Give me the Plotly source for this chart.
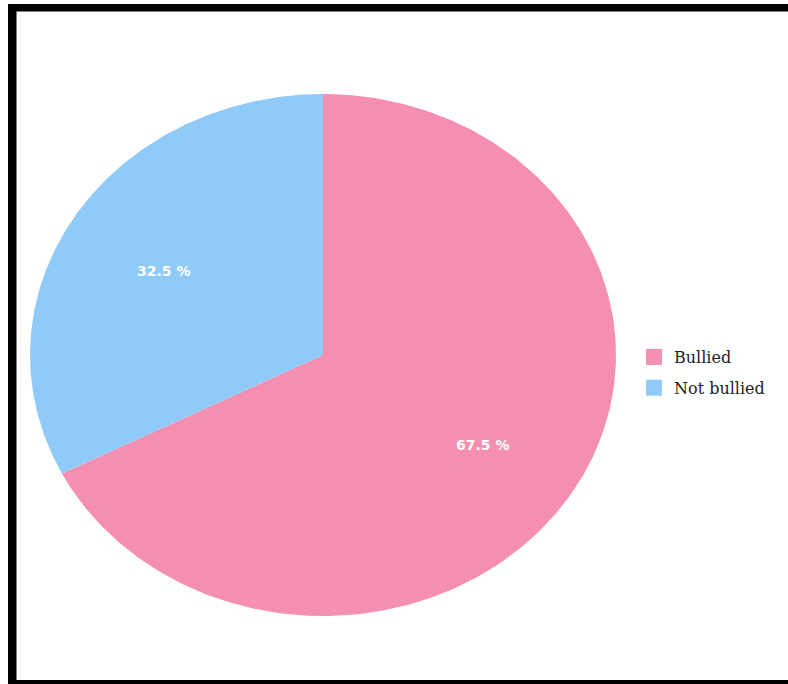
import numpy as np
import plotly.graph_objects as go

# Share of respondents
labels = ["Bullied", "Not bullied"]
percent = [67.5, 32.5]
colors = ["#F48FB1", "#90CAF9"]

W, H = 788, 684
# pie centre and radii in pixels (the pie is drawn as an ellipse)
CX, CY = 323, 355
RX, RY = 293, 261
LABEL_R = 0.64

fig = go.Figure()

start = 0.0  # degrees clockwise from 12 o'clock
for lab, pct, col in zip(labels, percent, colors):
    sweep = pct / 100.0 * 360.0
    th = np.radians(np.linspace(start, start + sweep, 240))
    xs = np.concatenate([[0.0], np.sin(th), [0.0]])
    ys = np.concatenate([[0.0], np.cos(th), [0.0]])
    fig.add_trace(go.Scatter(
        x=xs, y=ys, mode="lines", fill="toself", fillcolor=col,
        line=dict(width=0, color=col), hoverinfo="text",
        text=f"{lab}: {pct} %", showlegend=False,
    ))
    mid = np.radians(start + sweep / 2)
    fig.add_annotation(
        x=LABEL_R * np.sin(mid), y=LABEL_R * np.cos(mid),
        text=f"<b>{pct} %</b>", showarrow=False, yshift=-3,
        font=dict(family="DejaVu Sans", size=14, color="white"),
    )
    # legend swatch
    fig.add_trace(go.Scatter(
        x=[None], y=[None], mode="markers", name=lab, legendgroup=lab,
        marker=dict(symbol="square", size=16, color=col),
    ))
    start += sweep

# black frame along the left, top and bottom edges
frame = [
    (8, 4, 16.5, H),
    (8, 4, W, 11.5),
    (8, 680, W, H),
]
for x0, y0, x1, y1 in frame:
    fig.add_shape(
        type="rect", xref="paper", yref="paper",
        x0=x0 / W, x1=x1 / W, y0=1 - y1 / H, y1=1 - y0 / H,
        fillcolor="black", line=dict(width=0), layer="above",
    )

fig.update_layout(
    width=W, height=H,
    margin=dict(l=0, r=0, t=0, b=0),
    paper_bgcolor="white", plot_bgcolor="white",
    xaxis=dict(range=[-CX / RX, (W - CX) / RX], visible=False, fixedrange=True),
    yaxis=dict(range=[-(H - CY) / RY, CY / RY], visible=False, fixedrange=True),
    showlegend=True,
    legend=dict(
        x=634 / W, y=1 - 340 / H, xanchor="left", yanchor="top",
        font=dict(family="DejaVu Serif", size=16, color="#222222"),
        tracegroupgap=7, bgcolor="rgba(0,0,0,0)",
    ),
)

fig.write_html("out.html")
